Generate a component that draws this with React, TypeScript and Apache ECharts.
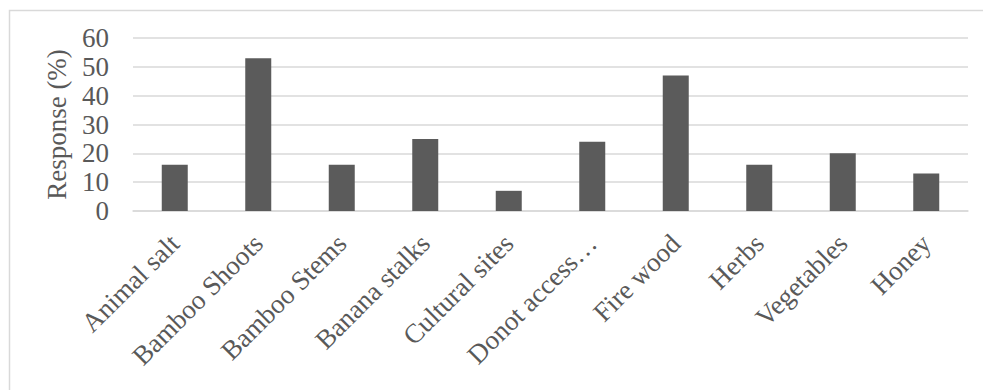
import React, { useEffect, useRef } from "react";
import * as echarts from "echarts";

// Share of respondents citing each forest resource
const categories = [
  "Animal salt",
  "Bamboo Shoots",
  "Bamboo Stems",
  "Banana stalks",
  "Cultural sites",
  "Donot access…",
  "Fire wood",
  "Herbs",
  "Vegetables",
  "Honey",
];
const responses = [16, 53, 16, 25, 7, 24, 47, 16, 20, 13];
const yTicks = { min: 0, max: 60, interval: 10 };
const yAxisTitle = "Response (%)";

const FONT = '"Liberation Serif", "Times New Roman", serif';
const TEXT = "#595959";
const GRID = "#d9d9d9";

export default function App() {
  const ref = useRef<HTMLDivElement>(null);

  useEffect(() => {
    if (!ref.current) return;
    const chart = echarts.init(ref.current, undefined, { renderer: "svg" });
    chart.setOption({
      animation: false,
      backgroundColor: "#ffffff",
      textStyle: { fontFamily: FONT },
      graphic: [
        {
          type: "rect",
          left: 7,
          top: 8,
          shape: { width: 1000, height: 400 },
          style: { fill: "none", stroke: GRID, lineWidth: 1.5 },
          silent: true,
        },
      ],
      grid: { left: 133, right: 15, top: 38, bottom: 179 },
      xAxis: {
        type: "category",
        data: categories,
        axisLine: { lineStyle: { color: GRID, width: 1.5 } },
        axisTick: { show: false },
        axisLabel: {
          rotate: 45,
          interval: 0,
          margin: 28,
          color: TEXT,
          fontSize: 27,
          fontFamily: FONT,
        },
      },
      yAxis: {
        type: "value",
        min: yTicks.min,
        max: yTicks.max,
        interval: yTicks.interval,
        name: yAxisTitle,
        nameLocation: "middle",
        nameRotate: 90,
        nameGap: 63,
        nameTextStyle: { color: TEXT, fontSize: 27, fontFamily: FONT },
        axisLine: { show: false },
        axisTick: { show: false },
        axisLabel: { color: TEXT, fontSize: 27, fontFamily: FONT, margin: 24 },
        splitLine: { lineStyle: { color: GRID, width: 1.5 } },
      },
      series: [
        {
          type: "bar",
          data: responses,
          barWidth: 26,
          itemStyle: { color: "#5b5b5b" },
        },
      ],
    });
    return () => chart.dispose();
  }, []);

  return (
    <div
      ref={ref}
      style={{ position: "fixed", left: 0, top: 0, width: 983, height: 390 }}
    />
  );
}
